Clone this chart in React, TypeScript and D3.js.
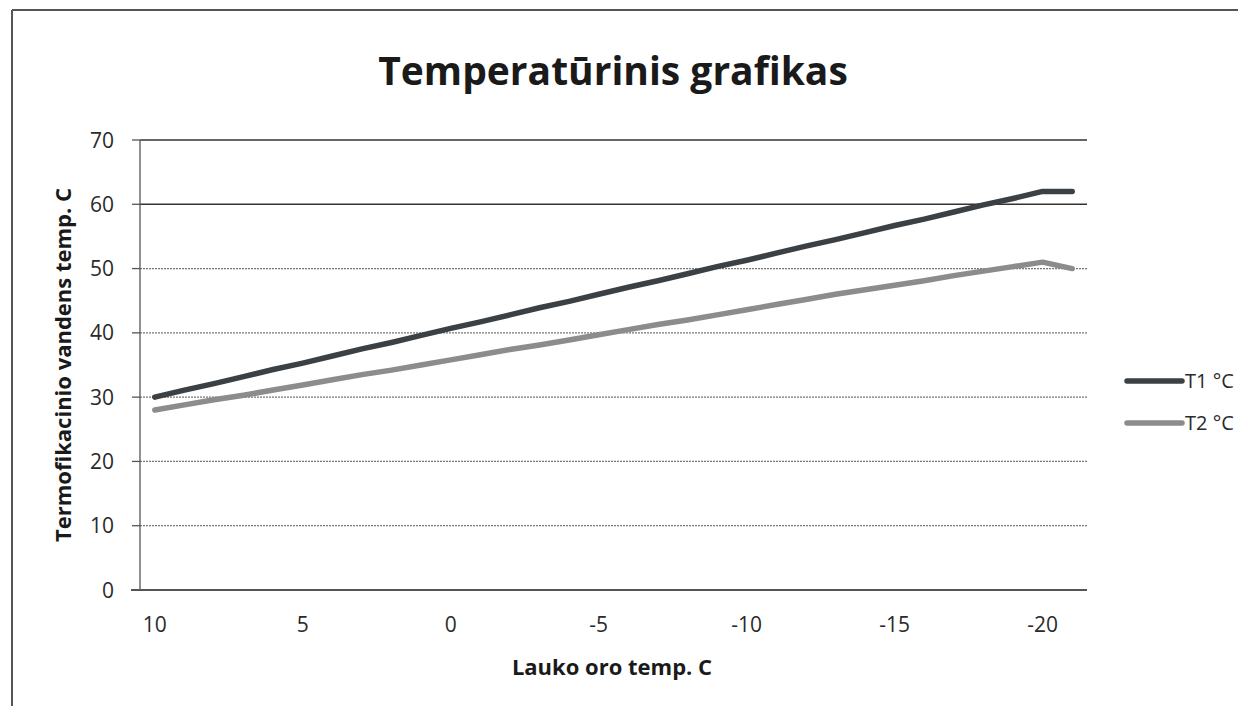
import React from "react";
import * as d3 from "d3";

const categories = [10, 9, 8, 7, 6, 5, 4, 3, 2, 1, 0, -1, -2, -3, -4, -5, -6, -7, -8, -9, -10, -11, -12, -13, -14, -15, -16, -17, -18, -19, -20, -21];
const t1Values = [30, 31.1, 32.1, 33.2, 34.3, 35.3, 36.4, 37.5, 38.5, 39.6, 40.7, 41.7, 42.8, 43.9, 44.9, 46, 47.1, 48.1, 49.2, 50.3, 51.3, 52.4, 53.5, 54.5, 55.6, 56.7, 57.7, 58.8, 59.9, 60.9, 62, 62];
const t2Values = [28, 28.8, 29.6, 30.3, 31.1, 31.9, 32.7, 33.5, 34.2, 35, 35.8, 36.6, 37.4, 38.1, 38.9, 39.7, 40.5, 41.3, 42, 42.8, 43.6, 44.4, 45.2, 46, 46.7, 47.4, 48.1, 48.9, 49.6, 50.3, 51, 50];
const xTickLabels = [10, 5, 0, -5, -10, -15, -20];
const yTicks = [0, 10, 20, 30, 40, 50, 60, 70];
const seriesNames = ["T1 °C", "T2 °C"];
const seriesColors = ["#3b4045", "#8c8c8c"];

export default function App() {
  const W = 1242, H = 711;
  const left = 140, right = 1087, top = 140, bottom = 590;
  const x = d3.scaleBand<number>().domain(categories).range([left, right]).padding(0);
  const xc = (c: number) => (x(c) as number) + x.bandwidth() / 2;
  const y = d3.scaleLinear().domain([0, 70]).range([bottom, top]);
  const line = d3.line<[number, number]>().x(d => xc(d[0])).y(d => y(d[1]));
  const series = [t1Values, t2Values];
  const font = "'Open Sans', 'Noto Sans', sans-serif";

  return (
    <div style={{ position: "absolute", left: 0, top: 0 }}>
      <svg width={W} height={H} style={{ display: "block", background: "#fff" }} fontFamily={font}>
        <rect x={0} y={0} width={W} height={H} fill="#fff" />
        <line x1={12} y1={10} x2={1238} y2={10} stroke="#555" strokeWidth={2} />
        <line x1={12} y1={10} x2={12} y2={706} stroke="#555" strokeWidth={2} />
        <text x={613} y={85} textAnchor="middle" fontSize={39} fontWeight="bold" fill="#1a1a1a">
          Temperatūrinis grafikas
        </text>
        {yTicks.map(t => (
          <g key={t}>
            <line x1={left} x2={right} y1={y(t)} y2={y(t)}
              stroke={t >= 60 ? "#333" : "#777"} strokeWidth={t >= 60 ? 1.6 : 1.3}
              strokeDasharray={t >= 60 || t === 0 ? undefined : "2 1"} />
            <line x1={left - 8} x2={left} y1={y(t)} y2={y(t)} stroke="#555" strokeWidth={1.3} />
            <text x={114} y={y(t)} dy="0.36em" textAnchor="end" fontSize={21} fill="#2a2a2a">{t}</text>
          </g>
        ))}
        <line x1={left} x2={left} y1={top} y2={bottom} stroke="#555" strokeWidth={1.3} />
        <line x1={left - 9} x2={right} y1={bottom} y2={bottom} stroke="#555" strokeWidth={2} />
        {xTickLabels.map(c => (
          <text key={c} x={xc(c)} y={632} textAnchor="middle" fontSize={21} fill="#2a2a2a">{c}</text>
        ))}
        <text x={612} y={675} textAnchor="middle" fontSize={22} fontWeight="bold" fill="#1a1a1a">Lauko oro temp. C</text>
        <text transform={`translate(71,${365}) rotate(-90)`} textAnchor="middle" fontSize={22} fontWeight="bold" fill="#1a1a1a">
          Termofikacinio vandens temp. C
        </text>
        {series.map((vals, i) => (
          <path key={i}
            d={line(categories.map((c, j) => [c, vals[j]] as [number, number])) as string}
            fill="none" stroke={seriesColors[i]} strokeWidth={5.5} strokeLinecap="round" strokeLinejoin="round" />
        ))}
        {seriesNames.map((n, i) => (
          <g key={n} transform={`translate(0,${381 + i * 42})`}>
            <line x1={1127} x2={1182} y1={0} y2={0} stroke={seriesColors[i]} strokeWidth={5.5} strokeLinecap="round" />
            <text x={1185} y={0} dy="0.36em" fontSize={20} fill="#2a2a2a">{n}</text>
          </g>
        ))}
      </svg>
    </div>
  );
}
